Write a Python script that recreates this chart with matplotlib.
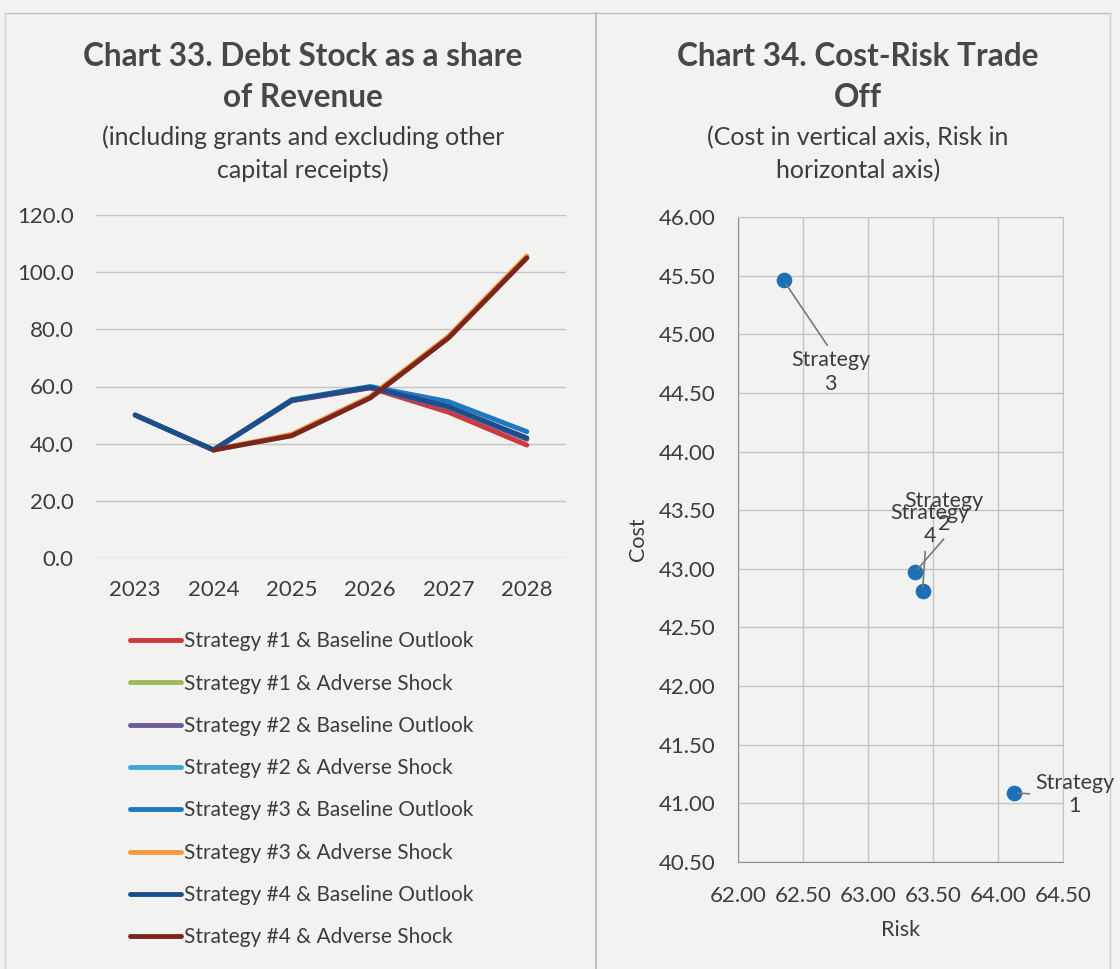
import numpy as np
import matplotlib
matplotlib.use("Agg")
import matplotlib.pyplot as plt
from matplotlib.ticker import FormatStrFormatter

plt.rcParams['font.family'] = ['Lato', 'DejaVu Sans']

# ---- Chart 33 data: debt stock as a share of revenue ----
years = ["2023", "2024", "2025", "2026", "2027", "2028"]
s1_baseline = [50.0, 37.8, 55.0, 59.5, 51.0, 39.5]
s1_adverse = [np.nan, 37.8, 42.8, 56.0, 77.0, 105.0]
s2_baseline = [50.0, 37.8, 55.1, 59.6, 52.5, 41.5]
s2_adverse = [np.nan, 37.8, 43.0, 56.2, 77.2, 105.2]
s3_baseline = [50.0, 37.8, 55.4, 60.0, 54.7, 44.2]
s3_adverse = [np.nan, 37.8, 43.3, 56.5, 77.6, 105.7]
s4_baseline = [50.0, 37.8, 55.2, 59.7, 53.0, 42.0]
s4_adverse = [np.nan, 37.8, 42.8, 56.0, 77.0, 105.0]

series_labels = [
    "Strategy #1 & Baseline Outlook",
    "Strategy #1 & Adverse Shock",
    "Strategy #2 & Baseline Outlook",
    "Strategy #2 & Adverse Shock",
    "Strategy #3 & Baseline Outlook",
    "Strategy #3 & Adverse Shock",
    "Strategy #4 & Baseline Outlook",
    "Strategy #4 & Adverse Shock",
]
series_values = [s1_baseline, s1_adverse, s2_baseline, s2_adverse,
                 s3_baseline, s3_adverse, s4_baseline, s4_adverse]
series_colors = ["#d0393b", "#9bbb59", "#6f5a9a", "#3fa9d3",
                 "#1f78c0", "#f39a3c", "#1c4f8a", "#7b2420"]

# ---- Chart 34 data: cost-risk trade off ----
strategies = ["Strategy\n1", "Strategy\n2", "Strategy\n3", "Strategy\n4"]
risk = [64.12, 63.36, 62.35, 63.42]
cost = [41.09, 42.97, 45.46, 42.81]
# label placement (offset in points) and where the leader line leaves the label
label_offsets = [(44, -1), (21, 43), (34, -66), (5, 48)]
leader_relpos = [(0.0, 0.5), (0.55, 0.0), (0.5, 1.0), (0.45, 0.0)]

W, H = 1120, 969
bg = "#f2f2f0"
txt = "#3c3c3c"
grid_c = "#c4c4c4"

fig = plt.figure(figsize=(W / 100, H / 100), dpi=100, facecolor=bg)


def px_axes(x0, y0, x1, y1):
    return fig.add_axes([x0 / W, 1 - y1 / H, (x1 - x0) / W, (y1 - y0) / H])


# panel frame lines
frame = fig.add_axes([0, 0, 1, 1], facecolor="none")
frame.set_xlim(0, W)
frame.set_ylim(H, 0)
frame.axis("off")
frame.plot([5, 1110], [13, 13], color="#bdbdbd", lw=1)
frame.plot([596, 596], [13, H], color="#b5b5b5", lw=1.2)
frame.plot([5, 5], [13, H], color="#cfcfcf", lw=1)
frame.plot([1110, 1110], [13, H], color="#cfcfcf", lw=1)

# titles
title_kw = dict(ha="center", va="center", fontsize=22.7, fontweight="bold",
                color="#474747", linespacing=1.5)
sub_kw = dict(ha="center", va="center", fontsize=18, color=txt, linespacing=1.47)
fig.text(303 / W, 1 - 77 / H, "Chart 33. Debt Stock as a share\nof Revenue", **title_kw)
fig.text(303 / W, 1 - 154 / H, "(including grants and excluding other\ncapital receipts)", **sub_kw)
fig.text(858 / W, 1 - 77 / H, "Chart 34. Cost-Risk Trade\nOff", **title_kw)
fig.text(858 / W, 1 - 154 / H, "(Cost in vertical axis, Risk in\nhorizontal axis)", **sub_kw)

# ---- left: line chart ----
ax1 = px_axes(96, 215, 566, 558)
ax1.set_facecolor("none")
x = np.arange(len(years))
handles = []
for vals, lab, col in zip(series_values, series_labels, series_colors):
    ln, = ax1.plot(x, vals, color=col, lw=3.5, solid_capstyle="round",
                   solid_joinstyle="round", label=lab)
    handles.append(ln)
ax1.set_xlim(-0.5, len(years) - 0.5)
ax1.set_ylim(0, 120)
yt = np.arange(0, 121, 20)
ax1.set_yticks(yt)
ax1.set_yticklabels([f"{v:.1f}" for v in yt])
ax1.set_xticks(x)
ax1.set_xticklabels(years)
ax1.grid(axis="y", color=grid_c, lw=1)
ax1.set_axisbelow(True)
for s in ax1.spines.values():
    s.set_visible(False)
ax1.tick_params(length=0, labelsize=16, colors=txt, pad=16)
ax1.tick_params(axis="x", pad=16)

fig.legend(handles=handles, loc="upper left",
           bbox_to_anchor=(122 / W, 1 - 623 / H), frameon=False,
           borderaxespad=0, fontsize=15, handlelength=2.45, handletextpad=0.15,
           labelspacing=1.07, labelcolor=txt)

# ---- right: scatter chart ----
ax2 = px_axes(738, 217, 1063, 862)
ax2.set_facecolor("none")
ax2.set_xlim(62.0, 64.5)
ax2.set_ylim(40.5, 46.0)
ax2.set_xticks(np.arange(62.0, 64.51, 0.5))
ax2.set_yticks(np.arange(40.5, 46.01, 0.5))
ax2.xaxis.set_major_formatter(FormatStrFormatter("%.2f"))
ax2.yaxis.set_major_formatter(FormatStrFormatter("%.2f"))
ax2.grid(True, color=grid_c, lw=1)
ax2.set_axisbelow(True)
for side in ["top", "right"]:
    ax2.spines[side].set_color(grid_c)
for side in ["left", "bottom"]:
    ax2.spines[side].set_color("#8c8c8c")
ax2.tick_params(length=0, labelsize=16, colors=txt)
ax2.tick_params(axis="y", pad=16)
ax2.tick_params(axis="x", pad=17)
ax2.scatter(risk, cost, s=105, color="#1f6fb8", zorder=3, clip_on=False)
for name, xr, yc, off, rp in zip(strategies, risk, cost, label_offsets, leader_relpos):
    ax2.annotate(name, xy=(xr, yc), xytext=off, textcoords="offset points",
                 ha="center", va="center", fontsize=15.4, color=txt,
                 linespacing=1.2,
                 arrowprops=dict(arrowstyle="-", color="#7a7a7a", lw=1.2,
                                 relpos=rp, shrinkA=2, shrinkB=3))
ax2.set_xlabel("Risk", fontsize=15.5, color=txt, labelpad=10)
ax2.set_ylabel("Cost", fontsize=15.5, color=txt, labelpad=8)

fig.savefig("out.png", dpi=100, facecolor=bg)
